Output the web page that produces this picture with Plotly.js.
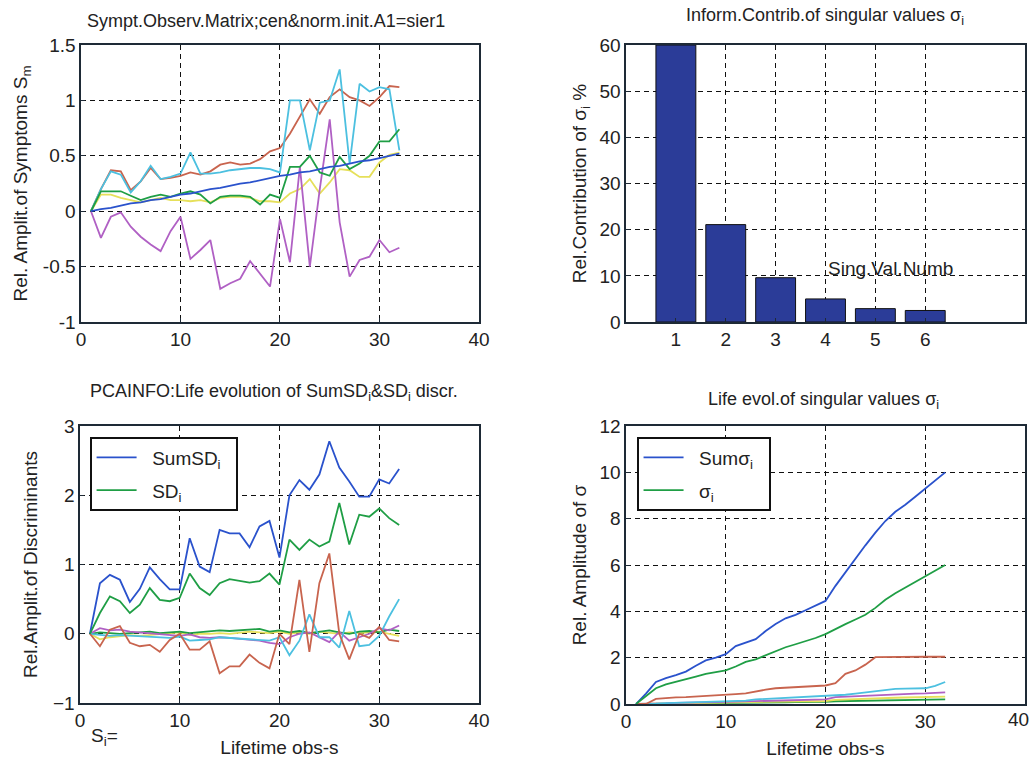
<!DOCTYPE html>
<html>
<head>
<meta charset="utf-8">
<script src="https://cdn.plot.ly/plotly-3.0.1.min.js"></script>
<style>html,body{margin:0;padding:0;background:#fff;}#chart{width:1032px;height:762px;}</style>
</head>
<body>
<div id="chart"></div>
<script>
// ---------- data ----------
const obs = [1,2,3,4,5,6,7,8,9,10,11,12,13,14,15,16,17,18,19,20,21,22,23,24,25,26,27,28,29,30,31,32];

// Top-left: symptom observation matrix
const tlBlue   = [0,0.02,0.03,0.05,0.07,0.08,0.10,0.11,0.13,0.15,0.16,0.18,0.20,0.21,0.23,0.25,0.26,0.28,0.30,0.32,0.33,0.35,0.36,0.38,0.40,0.41,0.43,0.45,0.46,0.48,0.50,0.52];
const tlGreen  = [0,0.18,0.18,0.18,0.14,0.10,0.13,0.15,0.13,0.16,0.18,0.15,0.07,0.13,0.14,0.14,0.13,0.06,0.15,0.12,0.40,0.40,0.50,0.35,0.32,0.49,0.38,0.43,0.50,0.63,0.63,0.74];
const tlRed    = [0,0.20,0.37,0.36,0.19,0.27,0.39,0.29,0.30,0.32,0.35,0.33,0.36,0.42,0.44,0.42,0.43,0.47,0.54,0.57,0.70,0.85,1.01,0.88,1.03,1.10,1.03,1.00,0.95,1.03,1.13,1.12];
const tlCyan   = [0,0.20,0.36,0.33,0.17,0.27,0.41,0.29,0.31,0.34,0.53,0.34,0.34,0.35,0.37,0.38,0.39,0.39,0.38,0.35,1.00,1.00,0.55,0.98,1.00,1.28,0.43,1.15,1.08,1.12,1.10,0.55];
const tlMag    = [0,-0.24,-0.05,-0.01,-0.14,-0.23,-0.30,-0.36,-0.18,-0.05,-0.43,-0.35,-0.26,-0.70,-0.65,-0.61,-0.45,-0.57,-0.68,-0.07,-0.46,0.40,-0.50,0.20,0.83,-0.10,-0.59,-0.44,-0.41,-0.26,-0.37,-0.33];
const tlYellow = [0,0.15,0.15,0.12,0.10,0.08,0.10,0.12,0.10,0.10,0.09,0.10,0.08,0.12,0.13,0.13,0.12,0.09,0.09,0.08,0.16,0.20,0.29,0.16,0.26,0.38,0.37,0.31,0.31,0.44,0.51,0.53];

// Top-right: information contribution of singular values
const svNum = [1,2,3,4,5,6];
const svContrib = [60,21.1,9.6,5.0,2.9,2.5];

// Bottom-left: discriminants
const blSum    = [0,0.73,0.85,0.78,0.46,0.65,0.96,0.79,0.64,0.64,1.38,0.97,0.89,1.50,1.45,1.45,1.25,1.55,1.63,1.10,2.00,2.22,2.08,2.30,2.78,2.40,2.20,1.98,1.98,2.23,2.17,2.38];
const blSD     = [0,0.30,0.54,0.47,0.30,0.42,0.66,0.49,0.47,0.52,0.87,0.66,0.56,0.73,0.79,0.77,0.74,0.76,0.87,0.71,1.36,1.21,1.36,1.26,1.33,1.89,1.29,1.72,1.69,1.81,1.67,1.57];
const blRed    = [0,-0.18,0.06,0.11,-0.13,-0.18,-0.16,-0.26,-0.09,0,-0.23,-0.23,-0.11,-0.57,-0.47,-0.47,-0.30,-0.42,-0.50,0,-0.15,0.78,-0.26,0.73,1.16,0,-0.37,0,-0.06,0.10,-0.09,-0.11];
const blCyan   = [0,-0.02,-0.03,-0.02,-0.03,-0.04,-0.05,-0.05,-0.06,-0.04,-0.10,-0.09,-0.08,-0.05,-0.06,-0.07,-0.08,-0.08,-0.10,-0.05,-0.31,-0.10,0.28,-0.05,-0.05,-0.20,0.33,-0.18,-0.16,-0.03,0.25,0.50];
const blMag    = [0,0.08,0.05,0.06,0.03,0.02,0,0,-0.02,-0.03,-0.01,-0.05,-0.06,-0.05,-0.06,-0.07,-0.08,-0.10,-0.13,-0.15,-0.05,0,0.02,-0.05,-0.12,0.03,-0.10,-0.05,0,0.08,0.05,0.12];
const blYellow = [0,-0.08,-0.05,-0.03,-0.02,-0.03,-0.02,-0.01,0,0.02,-0.02,0,0,0.01,0,0.02,0.03,0.02,0.01,0.03,0,0.02,0,0.03,0.02,0,0.02,0.01,0.02,0.03,0,-0.03];
const blGreen2 = [0,0.02,0.01,0,0.01,0.02,0.03,0.01,0.02,0.03,0.01,0.02,0.03,0.05,0.04,0.05,0.06,0.07,0.03,0.05,0.02,0.04,0.01,0.03,0.05,0.02,0,0.03,0.04,0.02,0.06,0.04];

// Bottom-right: singular values evolution
const brSum    = [0,0.45,0.95,1.12,1.25,1.40,1.65,1.88,2.00,2.15,2.50,2.65,2.80,3.15,3.45,3.70,3.85,4.05,4.25,4.45,5.10,5.70,6.30,6.85,7.40,7.90,8.30,8.60,8.95,9.30,9.65,10.0];
const brSig    = [0,0.35,0.68,0.85,0.95,1.05,1.18,1.30,1.38,1.45,1.62,1.82,1.93,2.10,2.30,2.45,2.58,2.70,2.85,3.02,3.25,3.45,3.65,3.85,4.15,4.50,4.78,5.02,5.25,5.50,5.75,6.00];
const brRed    = [0,0,0.22,0.27,0.29,0.30,0.32,0.35,0.38,0.40,0.43,0.46,0.55,0.62,0.68,0.70,0.72,0.74,0.76,0.80,0.90,1.30,1.45,1.70,2.02,2.03,2.03,2.03,2.04,2.04,2.04,2.04];
const brCyan   = [0,0,0.02,0.04,0.05,0.06,0.07,0.08,0.09,0.10,0.12,0.15,0.20,0.22,0.24,0.26,0.28,0.30,0.32,0.35,0.38,0.40,0.45,0.50,0.55,0.62,0.65,0.66,0.66,0.68,0.78,0.95];
const brMag    = [0,0,0.02,0.03,0.05,0.05,0.06,0.08,0.08,0.09,0.10,0.11,0.14,0.15,0.15,0.16,0.17,0.17,0.18,0.20,0.30,0.32,0.33,0.36,0.40,0.41,0.42,0.44,0.45,0.46,0.48,0.50];
const brYellow = [0,0,0.01,0.02,0.03,0.03,0.04,0.05,0.06,0.06,0.07,0.08,0.08,0.09,0.10,0.10,0.11,0.12,0.12,0.13,0.18,0.20,0.22,0.24,0.25,0.26,0.27,0.28,0.29,0.30,0.31,0.32];
const brGreen2 = [0,0,0.01,0.01,0.02,0.02,0.03,0.03,0.04,0.04,0.05,0.05,0.06,0.06,0.07,0.07,0.08,0.08,0.09,0.09,0.12,0.13,0.14,0.15,0.16,0.17,0.18,0.18,0.19,0.19,0.20,0.20];

// ---------- styles ----------
const C = {blue:'#2a52cc', green:'#1f9e45', red:'#c8644e', cyan:'#4cc0e0', mag:'#b060c4', yellow:'#e6e05a', bar:'#2b3c98'};
const FONT = 'Liberation Sans, Arial, Helvetica, sans-serif';
const LW = 1.8;
const NB = '\u00a0\u00a0';

function line(x, y, color, xa, ya, extra) {
  return Object.assign({type:'scatter', mode:'lines', x:x, y:y, xaxis:xa, yaxis:ya,
    line:{color:color, width:LW}, showlegend:false, hoverinfo:'skip'}, extra||{});
}

const traces = [
  line(obs, tlYellow, C.yellow, 'x', 'y'),
  line(obs, tlMag, C.mag, 'x', 'y'),
  line(obs, tlRed, C.red, 'x', 'y'),
  line(obs, tlCyan, C.cyan, 'x', 'y'),
  line(obs, tlGreen, C.green, 'x', 'y'),
  line(obs, tlBlue, C.blue, 'x', 'y'),

  {type:'bar', x:svNum, y:svContrib, xaxis:'x2', yaxis:'y2', width:0.8,
   marker:{color:C.bar, line:{color:'#111', width:1}}, showlegend:false, hoverinfo:'skip'},

  line(obs, blYellow, C.yellow, 'x3', 'y3'),
  line(obs, blGreen2, C.green, 'x3', 'y3'),
  line(obs, blMag, C.mag, 'x3', 'y3'),
  line(obs, blCyan, C.cyan, 'x3', 'y3'),
  line(obs, blRed, C.red, 'x3', 'y3'),
  line(obs, blSum, C.blue, 'x3', 'y3', {name:NB+'SumSD<sub>i</sub>'+NB, showlegend:true, legend:'legend', legendgroup:'a'}),
  line(obs, blSD, C.green, 'x3', 'y3', {name:NB+'SD<sub>i</sub>', showlegend:true, legend:'legend', legendgroup:'b'}),

  line(obs, brGreen2, C.green, 'x4', 'y4'),
  line(obs, brYellow, C.yellow, 'x4', 'y4'),
  line(obs, brMag, C.mag, 'x4', 'y4'),
  line(obs, brCyan, C.cyan, 'x4', 'y4'),
  line(obs, brRed, C.red, 'x4', 'y4'),
  line(obs, brSum, C.blue, 'x4', 'y4', {name:NB+'Sumσ<sub>i</sub>'+NB, showlegend:true, legend:'legend2', legendgroup:'c'}),
  line(obs, brSig, C.green, 'x4', 'y4', {name:NB+'σ<sub>i</sub>', showlegend:true, legend:'legend2', legendgroup:'d'})
];

function ax(extra) {
  return Object.assign({
    showline:true, mirror:true, linecolor:'#1e2a36', linewidth:1.6,
    showgrid:true, gridcolor:'#111', gridwidth:1, griddash:'5px,4px',
    zeroline:false, ticks:'inside', ticklen:4, tickcolor:'#1e2a36',
    tickfont:{family:FONT, size:19, color:'#222'}, automargin:false, fixedrange:true
  }, extra);
}
const tf = (t) => ({text:t, font:{family:FONT, size:19, color:'#222'}});
const legStyle = (x, y) => ({x:x, y:y, xanchor:'left', yanchor:'top', bgcolor:'#fff',
  bordercolor:'#111', borderwidth:1.6, tracegroupgap:5, itemwidth:40,
  font:{family:FONT, size:19, color:'#222'}});

const layout = {
  width:1032, height:762,
  margin:{l:0, r:0, t:0, b:0},
  paper_bgcolor:'#fff', plot_bgcolor:'#fff',
  font:{family:FONT, size:19, color:'#222'},
  xaxis: ax({domain:[0.0785,0.4641], range:[0,40], tickvals:[0,10,20,30,40], anchor:'y'}),
  yaxis: ax({domain:[0.5774,0.9409], range:[-1,1.5], tickvals:[-1,-0.5,0,0.5,1,1.5], ticktext:['-1','-0.5','0','0.5','1','1.5'], anchor:'x',
             title:Object.assign(tf('Rel. Amplit.of Symptoms S<sub>m</sub>'), {standoff:10})}),
  xaxis2: ax({domain:[0.6066,0.9932], range:[0,8], tickvals:[1,2,3,4,5,6], anchor:'y2'}),
  yaxis2: ax({domain:[0.5774,0.9409], range:[0,60], tickvals:[0,10,20,30,40,50,60], anchor:'x2',
             title:Object.assign(tf('Rel.Contribution of σ<sub>i</sub> %'), {standoff:8})}),
  xaxis3: ax({domain:[0.0775,0.4641], range:[0,40], tickvals:[0,10,20,30,40], anchor:'y3',
             title:Object.assign(tf('Lifetime obs-s'), {standoff:10})}),
  yaxis3: ax({domain:[0.0774,0.4409], range:[-1,3], tickvals:[-1,0,1,2,3], anchor:'x3',
             title:Object.assign(tf('Rel.Amplit.of Discriminants'), {standoff:10})}),
  xaxis4: ax({domain:[0.6066,0.9932], range:[0,40], tickvals:[0,10,20,30], anchor:'y4',
             title:Object.assign(tf('Lifetime obs-s'), {standoff:10})}),
  yaxis4: ax({domain:[0.0761,0.4409], range:[0,12], tickvals:[0,2,4,6,8,10,12], anchor:'x4',
             title:Object.assign(tf('Rel. Amplitude of σ'), {standoff:8})}),
  legend: legStyle(0.0872, 0.4265),
  legend2: legStyle(0.6172, 0.4265),
  annotations: [
    {xref:'paper', yref:'paper', x:0.2578, y:0.9724, text:'Sympt.Observ.Matrix;cen&norm.init.A1=sier1', showarrow:false, xanchor:'center', yanchor:'middle', font:{family:FONT, size:18, color:'#222'}},
    {xref:'paper', yref:'paper', x:0.7994, y:0.978, text:'Inform.Contrib.of singular values σ<sub>i</sub>', showarrow:false, xanchor:'center', yanchor:'middle', font:{family:FONT, size:18, color:'#222'}},
    {xref:'paper', yref:'paper', x:0.2655, y:0.4843, text:'PCAINFO:Life evolution of SumSD<sub>i</sub>&SD<sub>i</sub> discr.', showarrow:false, xanchor:'center', yanchor:'middle', font:{family:FONT, size:18, color:'#222'}},
    {xref:'paper', yref:'paper', x:0.7975, y:0.4738, text:'Life evol.of singular values σ<sub>i</sub>', showarrow:false, xanchor:'center', yanchor:'middle', font:{family:FONT, size:18, color:'#222'}},
    {xref:'x2', yref:'y2', x:5.31, y:11.7, text:'Sing.Val.Numb', showarrow:false, xanchor:'center', yanchor:'middle', font:{family:FONT, size:19, color:'#222'}},
    {xref:'paper', yref:'paper', x:0.1017, y:0.0328, text:'S<sub>i</sub>=', showarrow:false, xanchor:'center', yanchor:'middle', font:{family:FONT, size:19, color:'#222'}},
    {xref:'paper', yref:'paper', x:0.999, y:0.0564, text:'40', showarrow:false, xanchor:'right', yanchor:'middle', font:{family:FONT, size:19, color:'#222'}}
  ]
};

Plotly.newPlot('chart', traces, layout, {staticPlot:true, displayModeBar:false});
</script>
</body>
</html>
